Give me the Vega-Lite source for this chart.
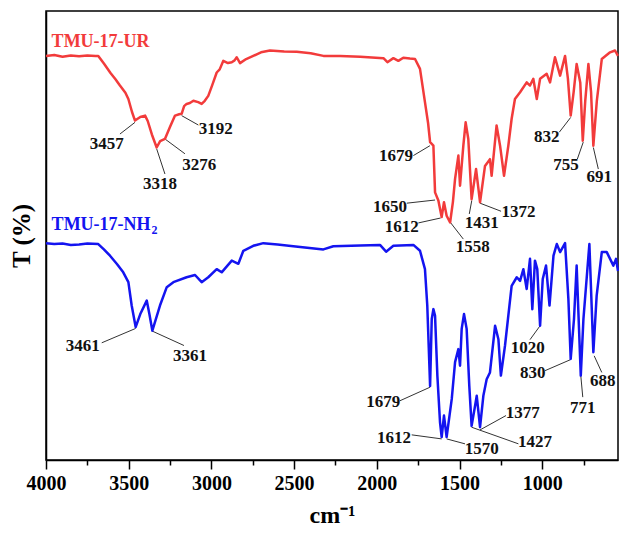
{
  "$schema": "https://vega.github.io/schema/vega-lite/v6.json",
  "width": 572,
  "height": 449,
  "autosize": {"type": "none"},
  "padding": {"left": 46, "top": 11, "right": 1, "bottom": 75},
  "config": {
    "font": "Liberation Serif",
    "view": {"stroke": "#000", "strokeWidth": 1.5},
    "axis": {"grid": false}
  },
  "datasets": {
    "spectra": [
      {"s":"UR","w":4000,"t":90.0},{"s":"UR","w":3950,"t":90.2},{"s":"UR","w":3900,"t":89.8},{"s":"UR","w":3850,"t":90.1},{"s":"UR","w":3800,"t":89.9},{"s":"UR","w":3750,"t":90.1},{"s":"UR","w":3700,"t":90.0},{"s":"UR","w":3684,"t":90.0},{"s":"UR","w":3650,"t":88.3},{"s":"UR","w":3610,"t":86.2},{"s":"UR","w":3580,"t":84.8},{"s":"UR","w":3553,"t":83.4},{"s":"UR","w":3520,"t":81.8},{"s":"UR","w":3502,"t":80.4},{"s":"UR","w":3480,"t":77.5},{"s":"UR","w":3462,"t":75.6},{"s":"UR","w":3430,"t":76.4},{"s":"UR","w":3401,"t":76.7},{"s":"UR","w":3385,"t":75.5},{"s":"UR","w":3360,"t":72.5},{"s":"UR","w":3331,"t":69.6},{"s":"UR","w":3310,"t":71.0},{"s":"UR","w":3281,"t":71.5},{"s":"UR","w":3250,"t":74.2},{"s":"UR","w":3220,"t":76.7},{"s":"UR","w":3195,"t":77.0},{"s":"UR","w":3180,"t":77.1},{"s":"UR","w":3165,"t":78.8},{"s":"UR","w":3150,"t":79.3},{"s":"UR","w":3130,"t":79.5},{"s":"UR","w":3109,"t":80.0},{"s":"UR","w":3080,"t":79.7},{"s":"UR","w":3059,"t":79.3},{"s":"UR","w":3040,"t":80.0},{"s":"UR","w":3019,"t":81.1},{"s":"UR","w":2995,"t":83.5},{"s":"UR","w":2968,"t":86.3},{"s":"UR","w":2950,"t":87.0},{"s":"UR","w":2928,"t":88.9},{"s":"UR","w":2900,"t":88.4},{"s":"UR","w":2877,"t":88.6},{"s":"UR","w":2860,"t":89.0},{"s":"UR","w":2847,"t":89.7},{"s":"UR","w":2827,"t":88.4},{"s":"UR","w":2790,"t":89.3},{"s":"UR","w":2747,"t":90.0},{"s":"UR","w":2700,"t":90.8},{"s":"UR","w":2646,"t":91.2},{"s":"UR","w":2560,"t":91.0},{"s":"UR","w":2484,"t":90.9},{"s":"UR","w":2400,"t":90.6},{"s":"UR","w":2323,"t":90.0},{"s":"UR","w":2222,"t":90.0},{"s":"UR","w":2100,"t":89.8},{"s":"UR","w":1960,"t":89.5},{"s":"UR","w":1936,"t":88.6},{"s":"UR","w":1900,"t":89.5},{"s":"UR","w":1870,"t":88.9},{"s":"UR","w":1840,"t":89.6},{"s":"UR","w":1800,"t":89.4},{"s":"UR","w":1769,"t":89.3},{"s":"UR","w":1739,"t":87.1},{"s":"UR","w":1709,"t":79.7},{"s":"UR","w":1690,"t":75.0},{"s":"UR","w":1678,"t":70.8},{"s":"UR","w":1658,"t":70.0},{"s":"UR","w":1648,"t":59.6},{"s":"UR","w":1628,"t":57.8},{"s":"UR","w":1608,"t":54.1},{"s":"UR","w":1594,"t":57.4},{"s":"UR","w":1578,"t":54.4},{"s":"UR","w":1557,"t":52.9},{"s":"UR","w":1540,"t":57.5},{"s":"UR","w":1527,"t":62.6},{"s":"UR","w":1507,"t":67.8},{"s":"UR","w":1497,"t":61.1},{"s":"UR","w":1477,"t":70.0},{"s":"UR","w":1463,"t":75.2},{"s":"UR","w":1447,"t":71.5},{"s":"UR","w":1427,"t":58.1},{"s":"UR","w":1400,"t":64.8},{"s":"UR","w":1376,"t":57.4},{"s":"UR","w":1346,"t":65.5},{"s":"UR","w":1316,"t":67.0},{"s":"UR","w":1306,"t":63.3},{"s":"UR","w":1276,"t":74.5},{"s":"UR","w":1255,"t":70.0},{"s":"UR","w":1231,"t":63.3},{"s":"UR","w":1205,"t":70.0},{"s":"UR","w":1185,"t":76.0},{"s":"UR","w":1165,"t":80.4},{"s":"UR","w":1134,"t":81.9},{"s":"UR","w":1094,"t":84.1},{"s":"UR","w":1074,"t":83.4},{"s":"UR","w":1054,"t":84.9},{"s":"UR","w":1033,"t":80.4},{"s":"UR","w":1013,"t":84.9},{"s":"UR","w":973,"t":86.0},{"s":"UR","w":953,"t":84.1},{"s":"UR","w":923,"t":89.7},{"s":"UR","w":892,"t":85.6},{"s":"UR","w":862,"t":90.0},{"s":"UR","w":845,"t":85.0},{"s":"UR","w":828,"t":76.7},{"s":"UR","w":810,"t":82.0},{"s":"UR","w":792,"t":88.2},{"s":"UR","w":770,"t":84.0},{"s":"UR","w":755,"t":71.1},{"s":"UR","w":740,"t":80.0},{"s":"UR","w":721,"t":88.2},{"s":"UR","w":705,"t":82.0},{"s":"UR","w":691,"t":70.0},{"s":"UR","w":670,"t":80.0},{"s":"UR","w":640,"t":89.3},{"s":"UR","w":590,"t":90.8},{"s":"UR","w":560,"t":91.2},{"s":"UR","w":542,"t":90.0},
      {"s":"NH2","w":4000,"t":48.3},{"s":"NH2","w":3950,"t":48.1},{"s":"NH2","w":3900,"t":48.2},{"s":"NH2","w":3850,"t":47.9},{"s":"NH2","w":3800,"t":48.0},{"s":"NH2","w":3750,"t":48.2},{"s":"NH2","w":3684,"t":48.1},{"s":"NH2","w":3650,"t":46.9},{"s":"NH2","w":3613,"t":45.5},{"s":"NH2","w":3570,"t":43.6},{"s":"NH2","w":3533,"t":41.8},{"s":"NH2","w":3502,"t":39.6},{"s":"NH2","w":3482,"t":34.4},{"s":"NH2","w":3458,"t":29.6},{"s":"NH2","w":3430,"t":32.5},{"s":"NH2","w":3391,"t":35.5},{"s":"NH2","w":3375,"t":32.5},{"s":"NH2","w":3357,"t":28.8},{"s":"NH2","w":3311,"t":34.4},{"s":"NH2","w":3270,"t":38.5},{"s":"NH2","w":3230,"t":39.6},{"s":"NH2","w":3150,"t":40.7},{"s":"NH2","w":3099,"t":41.2},{"s":"NH2","w":3059,"t":39.6},{"s":"NH2","w":3019,"t":40.7},{"s":"NH2","w":2968,"t":42.5},{"s":"NH2","w":2938,"t":41.8},{"s":"NH2","w":2877,"t":44.4},{"s":"NH2","w":2837,"t":43.7},{"s":"NH2","w":2807,"t":46.6},{"s":"NH2","w":2747,"t":47.7},{"s":"NH2","w":2686,"t":48.3},{"s":"NH2","w":2600,"t":48.0},{"s":"NH2","w":2505,"t":47.6},{"s":"NH2","w":2323,"t":46.9},{"s":"NH2","w":2263,"t":47.6},{"s":"NH2","w":2100,"t":47.8},{"s":"NH2","w":1981,"t":47.9},{"s":"NH2","w":1944,"t":46.4},{"s":"NH2","w":1900,"t":47.7},{"s":"NH2","w":1779,"t":47.9},{"s":"NH2","w":1739,"t":46.6},{"s":"NH2","w":1709,"t":42.5},{"s":"NH2","w":1695,"t":34.4},{"s":"NH2","w":1678,"t":16.5},{"s":"NH2","w":1668,"t":31.4},{"s":"NH2","w":1658,"t":33.6},{"s":"NH2","w":1648,"t":32.1},{"s":"NH2","w":1634,"t":18.8},{"s":"NH2","w":1618,"t":8.4},{"s":"NH2","w":1608,"t":5.1},{"s":"NH2","w":1594,"t":9.9},{"s":"NH2","w":1578,"t":5.1},{"s":"NH2","w":1547,"t":13.6},{"s":"NH2","w":1527,"t":21.8},{"s":"NH2","w":1507,"t":24.7},{"s":"NH2","w":1497,"t":21.0},{"s":"NH2","w":1487,"t":29.2},{"s":"NH2","w":1473,"t":32.5},{"s":"NH2","w":1457,"t":29.2},{"s":"NH2","w":1441,"t":16.5},{"s":"NH2","w":1427,"t":7.6},{"s":"NH2","w":1406,"t":12.1},{"s":"NH2","w":1396,"t":14.3},{"s":"NH2","w":1376,"t":7.3},{"s":"NH2","w":1356,"t":14.3},{"s":"NH2","w":1336,"t":18.0},{"s":"NH2","w":1316,"t":19.5},{"s":"NH2","w":1285,"t":29.9},{"s":"NH2","w":1265,"t":26.9},{"s":"NH2","w":1250,"t":18.8},{"s":"NH2","w":1225,"t":25.5},{"s":"NH2","w":1185,"t":38.8},{"s":"NH2","w":1154,"t":40.7},{"s":"NH2","w":1134,"t":39.9},{"s":"NH2","w":1114,"t":42.5},{"s":"NH2","w":1094,"t":38.1},{"s":"NH2","w":1074,"t":44.8},{"s":"NH2","w":1060,"t":33.6},{"s":"NH2","w":1044,"t":44.4},{"s":"NH2","w":1030,"t":42.5},{"s":"NH2","w":1013,"t":29.9},{"s":"NH2","w":997,"t":40.3},{"s":"NH2","w":977,"t":43.3},{"s":"NH2","w":956,"t":34.4},{"s":"NH2","w":932,"t":45.5},{"s":"NH2","w":912,"t":48.1},{"s":"NH2","w":892,"t":46.3},{"s":"NH2","w":862,"t":48.3},{"s":"NH2","w":842,"t":35.9},{"s":"NH2","w":828,"t":22.5},{"s":"NH2","w":808,"t":31.4},{"s":"NH2","w":792,"t":43.3},{"s":"NH2","w":767,"t":18.8},{"s":"NH2","w":751,"t":31.4},{"s":"NH2","w":715,"t":48.1},{"s":"NH2","w":691,"t":24.0},{"s":"NH2","w":671,"t":36.6},{"s":"NH2","w":640,"t":46.3},{"s":"NH2","w":610,"t":46.3},{"s":"NH2","w":570,"t":43.3},{"s":"NH2","w":554,"t":44.8},{"s":"NH2","w":542,"t":42.1}
    ],
    "labels": [
      {"w":3633,"t":70.4,"txt":"3457"},{"w":3311,"t":61.5,"txt":"3318"},{"w":3073,"t":65.8,"txt":"3276"},{"w":2974,"t":73.7,"txt":"3192"},
      {"w":1884,"t":67.6,"txt":"1679"},{"w":1920,"t":56.4,"txt":"1650"},{"w":1849,"t":51.8,"txt":"1612"},{"w":1420,"t":47.4,"txt":"1558"},
      {"w":1366,"t":52.8,"txt":"1431"},{"w":1144,"t":55.2,"txt":"1372"},{"w":973,"t":71.9,"txt":"832"},{"w":856,"t":65.8,"txt":"755"},{"w":655,"t":63.1,"txt":"691"},
      {"w":3778,"t":25.5,"txt":"3461"},{"w":3129,"t":23.2,"txt":"3361"},{"w":1961,"t":13.0,"txt":"1679"},{"w":1896,"t":4.9,"txt":"1612"},
      {"w":1366,"t":2.4,"txt":"1570"},{"w":1044,"t":3.9,"txt":"1427"},{"w":1118,"t":10.5,"txt":"1377"},{"w":1088,"t":24.9,"txt":"1020"},
      {"w":1058,"t":19.3,"txt":"830"},{"w":755,"t":11.6,"txt":"771"},{"w":634,"t":17.5,"txt":"688"}
    ],
    "leaders": [
      {"w":3462,"t":75.2,"w2":3553,"t2":72.6},{"w":3331,"t":69.3,"w2":3281,"t2":63.7},{"w":3281,"t":71.5,"w2":3160,"t2":68.2},{"w":3180,"t":76.7,"w2":3079,"t2":74.6},
      {"w":1779,"t":67.8,"w2":1679,"t2":70.0},{"w":1819,"t":57.2,"w2":1648,"t2":57.9},{"w":1749,"t":52.8,"w2":1614,"t2":53.9},{"w":1553,"t":52.8,"w2":1477,"t2":49.2},
      {"w":1426,"t":57.8,"w2":1441,"t2":54.8},{"w":1376,"t":57.2,"w2":1249,"t2":55.4},{"w":828,"t":76.3,"w2":897,"t2":73.0},{"w":752,"t":70.8,"w2":788,"t2":67.0},{"w":691,"t":69.6,"w2":661,"t2":64.8},
      {"w":3458,"t":29.3,"w2":3663,"t2":26.1},{"w":3357,"t":28.7,"w2":3166,"t2":25.5},{"w":1860,"t":13.2,"w2":1679,"t2":16.2},{"w":1789,"t":5.6,"w2":1608,"t2":4.7},
      {"w":1578,"t":4.7,"w2":1467,"t2":3.6},{"w":1427,"t":7.3,"w2":1144,"t2":3.6},{"w":1376,"t":6.7,"w2":1219,"t2":9.9},{"w":1013,"t":29.9,"w2":1074,"t2":26.8},
      {"w":832,"t":22.3,"w2":983,"t2":19.9},{"w":767,"t":18.8,"w2":755,"t2":14.0},{"w":686,"t":23.2,"w2":640,"t2":19.5}
    ],
    "names": [
      {"w":3966,"t":93.2,"txt":"TMU-17-UR","s":"UR"},
      {"w":3966,"t":52.3,"txt":"TMU-17-NH","s":"NH2"}
    ],
    "subs": [
      {"w":3362,"t":52.3,"txt":"2","s":"NH2"}
    ]
  },
  "layer": [
    {
      "data": {"name": "leaders"},
      "mark": {"type": "rule", "color": "#333", "strokeWidth": 1},
      "encoding": {
        "x": {"field": "w", "type": "quantitative"},
        "y": {"field": "t", "type": "quantitative"},
        "x2": {"field": "w2"},
        "y2": {"field": "t2"}
      }
    },
    {
      "data": {"name": "spectra"},
      "mark": {"type": "line", "strokeWidth": 2.5, "strokeJoin": "round"},
      "encoding": {
        "x": {
          "field": "w", "type": "quantitative",
          "scale": {"domain": [4000, 542], "nice": false, "zero": false},
          "axis": {
            "values": [4000,3750,3500,3250,3000,2750,2500,2250,2000,1750,1500,1250,1000,750],
            "format": "d",
            "labelExpr": "datum.value % 500 === 0 ? datum.label : ''",
            "tickSize": {"condition": {"test": "datum.value % 500 === 0", "value": 9}, "value": 5},
            "tickColor": "#000", "tickWidth": 1.5,
            "domainColor": "#000", "domainWidth": 1.5,
            "labelFont": "Liberation Serif", "labelFontSize": 20, "labelFontWeight": "bold", "labelColor": "#000",
            "labelPadding": 4, "labelFlush": false, "labelOverlap": false,
            "title": "cm⁻¹", "titleFont": "Liberation Serif", "titleFontSize": 24, "titleFontWeight": "bold", "titleColor": "#000",
            "titlePadding": 10
          }
        },
        "y": {
          "field": "t", "type": "quantitative",
          "scale": {"domain": [0, 100], "nice": false, "zero": false},
          "axis": {
            "labels": false, "ticks": false, "domainColor": "#000", "domainWidth": 1.5,
            "title": "T (%)", "titleFont": "Liberation Serif", "titleFontSize": 25, "titleFontWeight": "bold", "titleColor": "#000",
            "titlePadding": 12
          }
        },
        "color": {
          "field": "s", "type": "nominal",
          "scale": {"domain": ["UR", "NH2"], "range": ["#f23b3b", "#1414f0"]},
          "legend": null
        },
        "detail": {"field": "s"}
      }
    },
    {
      "data": {"name": "labels"},
      "mark": {"type": "text", "font": "Liberation Serif", "fontSize": 17, "fontWeight": "bold", "color": "#111", "align": "center", "baseline": "middle"},
      "encoding": {
        "x": {"field": "w", "type": "quantitative"},
        "y": {"field": "t", "type": "quantitative"},
        "text": {"field": "txt"}
      }
    },
    {
      "data": {"name": "names"},
      "mark": {"type": "text", "font": "Liberation Serif", "fontSize": 18, "fontWeight": "bold", "align": "left", "baseline": "middle"},
      "encoding": {
        "x": {"field": "w", "type": "quantitative"},
        "y": {"field": "t", "type": "quantitative"},
        "text": {"field": "txt"},
        "color": {"field": "s", "type": "nominal", "scale": {"domain": ["UR", "NH2"], "range": ["#f23b3b", "#1414f0"]}, "legend": null}
      }
    },
    {
      "data": {"name": "subs"},
      "mark": {"type": "text", "font": "Liberation Serif", "fontSize": 12, "fontWeight": "bold", "align": "left", "baseline": "middle", "dy": 5},
      "encoding": {
        "x": {"field": "w", "type": "quantitative"},
        "y": {"field": "t", "type": "quantitative"},
        "text": {"field": "txt"},
        "color": {"field": "s", "type": "nominal", "scale": {"domain": ["UR", "NH2"], "range": ["#f23b3b", "#1414f0"]}, "legend": null}
      }
    }
  ]
}
